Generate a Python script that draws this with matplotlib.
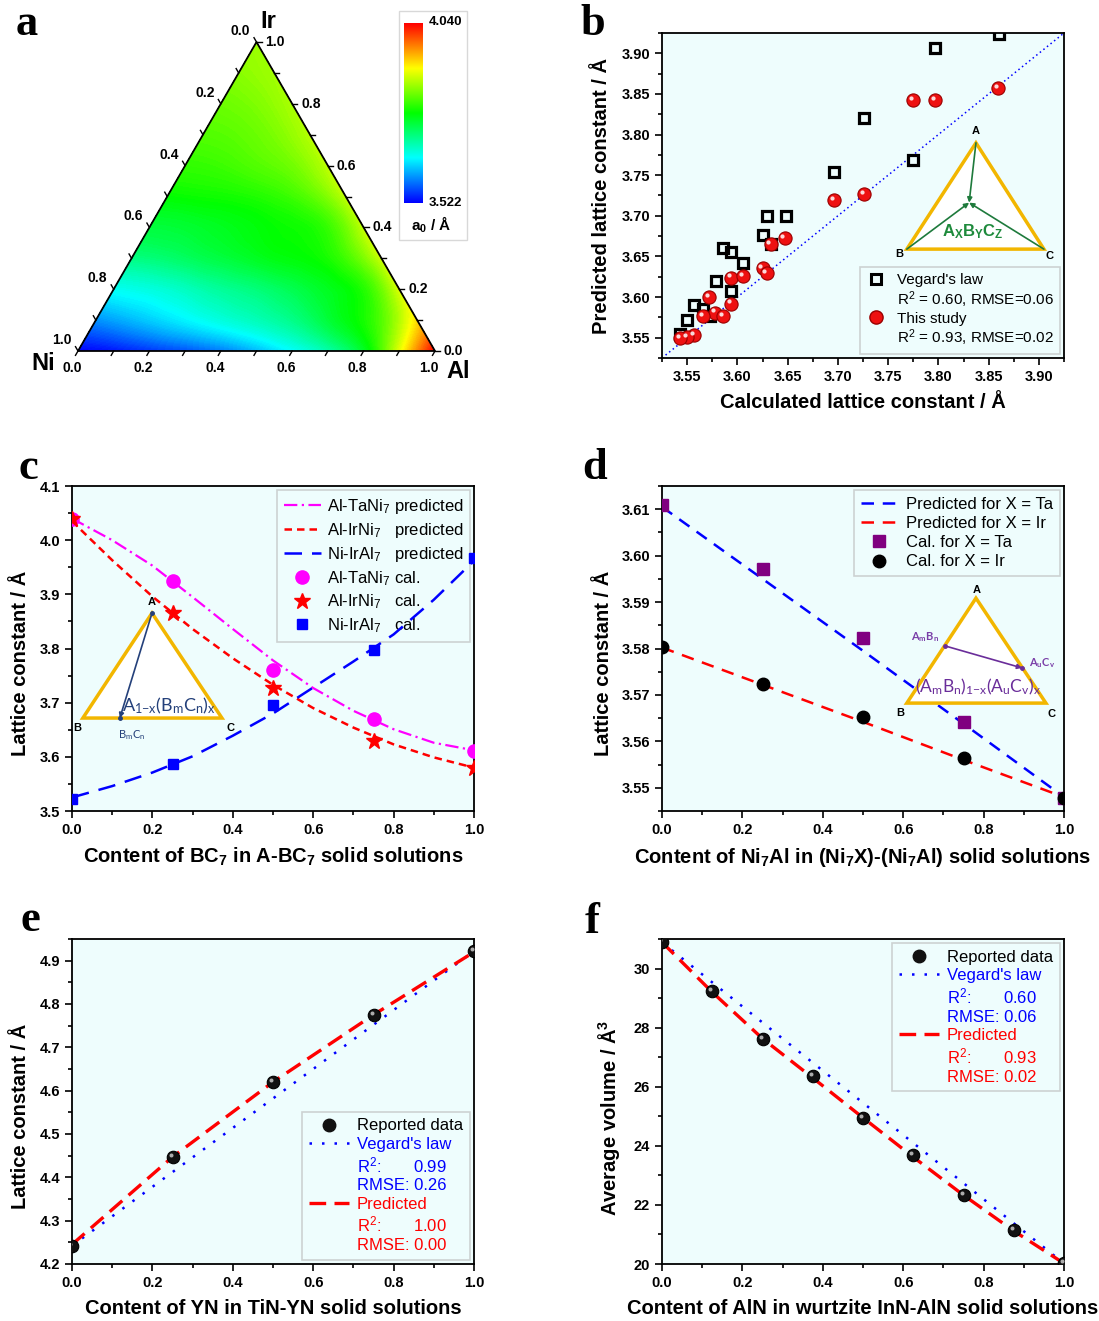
import matplotlib
matplotlib.use('Agg')
import matplotlib.pyplot as plt
import numpy as np
import matplotlib.tri as mtri
from matplotlib.colors import LinearSegmentedColormap
from matplotlib.lines import Line2D
from matplotlib.patches import Polygon, Rectangle
from matplotlib.ticker import MultipleLocator, FormatStrFormatter
from matplotlib.transforms import offset_copy

plt.rcParams['font.family'] = ['Liberation Sans', 'DejaVu Sans']
plt.rcParams['mathtext.default'] = 'regular'

W, H = 1099, 1321
BG = '#eefdfd'

# ---------------- data ----------------
# a: a0 over Ni-Al-Ir; rows = Ir fraction 0.0..1.0 (step 0.1), columns = Al fraction 0.0, 0.1, ...
ter_step = 0.1
ter_a0 = [
    [3.522, 3.532, 3.548, 3.563, 3.584, 3.615, 3.652, 3.693, 3.760, 3.895, 4.040],
    [3.595, 3.615, 3.636, 3.657, 3.677, 3.698, 3.729, 3.771, 3.822, 3.926],
    [3.657, 3.667, 3.683, 3.703, 3.719, 3.740, 3.765, 3.797, 3.890],
    [3.714, 3.724, 3.740, 3.755, 3.771, 3.781, 3.812, 3.882],
    [3.750, 3.755, 3.765, 3.776, 3.786, 3.807, 3.878],
    [3.781, 3.786, 3.791, 3.802, 3.825, 3.876],
    [3.805, 3.810, 3.822, 3.838, 3.876],
    [3.822, 3.828, 3.843, 3.872],
    [3.835, 3.845, 3.867],
    [3.850, 3.862],
    [3.858],
]
cb_min, cb_max = 3.522, 4.040

# b: predicted vs calculated
b_lim = [3.525, 3.925]
b_veg_x = [3.860, 3.797, 3.726, 3.775, 3.696, 3.629, 3.648, 3.625, 3.633, 3.586,
           3.594, 3.606, 3.579, 3.594, 3.557, 3.566, 3.573, 3.550, 3.543]
b_veg_y = [3.924, 3.907, 3.820, 3.769, 3.754, 3.700, 3.700, 3.677, 3.665, 3.660,
           3.655, 3.642, 3.620, 3.607, 3.590, 3.585, 3.577, 3.572, 3.555]
b_our_x = [3.859, 3.775, 3.797, 3.726, 3.696, 3.647, 3.633, 3.625, 3.629, 3.594,
           3.606, 3.594, 3.572, 3.578, 3.586, 3.566, 3.557, 3.550, 3.543]
b_our_y = [3.857, 3.843, 3.843, 3.727, 3.719, 3.673, 3.665, 3.636, 3.630, 3.624,
           3.626, 3.592, 3.600, 3.581, 3.577, 3.577, 3.553, 3.551, 3.550]

# c: A-BC7
c_x = [0.0, 0.25, 0.5, 0.75, 1.0]
c_ta_cal = [4.040, 3.925, 3.760, 3.670, 3.610]
c_ir_cal = [4.040, 3.865, 3.727, 3.630, 3.580]
c_ni_cal = [3.523, 3.587, 3.695, 3.798, 3.968]
c_xp = [0.0, 0.1, 0.2, 0.3, 0.4, 0.5, 0.6, 0.7, 0.8, 0.9, 1.0]
c_ta_pred = [4.040, 4.000, 3.953, 3.895, 3.836, 3.778, 3.727, 3.685, 3.651, 3.626, 3.612]
c_ir_pred = [4.035, 3.963, 3.896, 3.836, 3.782, 3.733, 3.690, 3.654, 3.623, 3.599, 3.580]
c_ni_pred = [3.525, 3.546, 3.571, 3.601, 3.639, 3.680, 3.728, 3.776, 3.826, 3.890, 3.962]

# d: (Ni7X)-(Ni7Al)
d_x = [0.0, 0.25, 0.5, 0.75, 1.0]
d_ta_cal = [3.6109, 3.5971, 3.5823, 3.5641, 3.5477]
d_ir_cal = [3.5803, 3.5723, 3.5652, 3.5564, 3.5477]
d_ta_pred = [3.6105, 3.5950, 3.5795, 3.5638, 3.5480]
d_ir_pred = [3.5802, 3.5722, 3.5642, 3.5560, 3.5480]

# e: TiN-YN
e_x = [0.0, 0.25, 0.5, 0.75, 1.0]
e_rep = [4.242, 4.448, 4.620, 4.775, 4.922]
e_veg_x = [0.0, 1.0]
e_veg = [4.242, 4.922]
e_pred = [4.245, 4.447, 4.620, 4.775, 4.920]

# f: InN-AlN
f_x = [0.0, 0.125, 0.25, 0.375, 0.5, 0.625, 0.75, 0.875, 1.0]
f_rep = [30.89, 29.23, 27.62, 26.37, 24.94, 23.68, 22.34, 21.15, 20.02]
f_veg_x = [0.0, 1.0]
f_veg = [30.89, 20.02]
f_pred = [30.89, 29.20, 27.63, 26.30, 24.95, 23.62, 22.33, 21.12, 20.02]

# ---------------- helpers ----------------
fig = plt.figure(figsize=(W / 100, H / 100), dpi=100)


def px_axes(l, t, r, b):
    return fig.add_axes([l / W, 1 - b / H, (r - l) / W, (b - t) / H])


def style(ax, xmaj, xmin, ymaj, ymin, xfmt, yfmt):
    ax.set_facecolor(BG)
    for s in ax.spines.values():
        s.set_linewidth(1.3)
    ax.xaxis.set_major_locator(MultipleLocator(xmaj))
    ax.xaxis.set_minor_locator(MultipleLocator(xmin))
    ax.yaxis.set_major_locator(MultipleLocator(ymaj))
    ax.yaxis.set_minor_locator(MultipleLocator(ymin))
    ax.xaxis.set_major_formatter(FormatStrFormatter(xfmt))
    ax.yaxis.set_major_formatter(FormatStrFormatter(yfmt))
    ax.tick_params(which='both', direction='out', width=1.2, labelsize=10.5)
    ax.tick_params(which='major', length=5)
    ax.tick_params(which='minor', length=3)
    for lab in ax.get_xticklabels() + ax.get_yticklabels():
        lab.set_fontweight('bold')


def labels(ax, xl, yl, ylx, yly):
    ax.set_xlabel(xl, fontsize=14.5, fontweight='bold')
    ax.set_ylabel(yl, fontsize=14.5, fontweight='bold')
    ax.xaxis.set_label_coords(0.5, -0.108)
    ax.yaxis.set_label_coords(ylx, yly)


def spheres(ax, x, y, color, edge, hl, ms):
    ax.plot(x, y, 'o', ms=ms, mfc=color, mec=edge, mew=0.8, ls='none', zorder=5)
    tr = offset_copy(ax.transData, fig=fig, x=-ms * 0.16, y=ms * 0.16, units='points')
    ax.plot(x, y, 'o', ms=ms * 0.32, mfc=hl, mec='none', alpha=0.85, ls='none',
            transform=tr, zorder=6)


def leg(ax, handles, texts, loc, colors=None, fs=12, **kw):
    lg = ax.legend(handles, texts, loc=loc, fontsize=fs, frameon=True, fancybox=False,
                   edgecolor='#c4c8c8', facecolor='none', borderaxespad=0.25, **kw)
    lg.get_frame().set_linewidth(1.2)
    if colors:
        for t, c in zip(lg.get_texts(), colors):
            t.set_color(c)
    return lg


def panel_letter(x, y, s):
    fig.text(x / W, 1 - y / H, s, fontfamily='Liberation Serif', fontweight='bold',
             fontsize=32, ha='center', va='center')


blank = Line2D([], [], ls='none')

# ---------------- a: ternary ----------------
ax_a = px_axes(0, 0, 470, 400)
ax_a.set_xlim(0, 470)
ax_a.set_ylim(400, 0)
ax_a.axis('off')
P_NI, P_AL, P_IR = np.array([78.0, 351.0]), np.array([435.0, 351.0]), np.array([256.5, 42.0])


def tern(al, ir):
    al, ir = np.atleast_1d(al), np.atleast_1d(ir)
    p = P_NI[:, None] + np.outer(P_AL - P_NI, al) + np.outer(P_IR - P_NI, ir)
    return p[0], p[1]


al_f, ir_f, vals = [], [], []
for r, row in enumerate(ter_a0):
    for c, v in enumerate(row):
        ir_f.append(r * ter_step)
        al_f.append(c * ter_step)
        vals.append(v)
tx, ty = tern(al_f, ir_f)
tri = mtri.Triangulation(tx, ty)
tri_r, z_r = mtri.UniformTriRefiner(tri).refine_field(np.array(vals), subdiv=3)
z_r = np.clip(z_r, cb_min, cb_max)
cmap = LinearSegmentedColormap.from_list('origin_rb', ['#0000ff', '#00ffff', '#00ff00',
                                                       '#ffff00', '#ff0000'])
ax_a.tricontourf(tri_r, z_r, levels=np.linspace(cb_min, cb_max, 160), cmap=cmap,
                 antialiased=False)
ax_a.add_patch(Polygon([P_NI, P_AL, P_IR], closed=True, fill=False, ec='black', lw=1.3,
                       zorder=3))
ticks = np.round(np.arange(0, 1.0001, 0.1), 2)
L = 5
for t in ticks:
    major = abs(t * 5 - round(t * 5)) < 1e-6
    # bottom: Al fraction
    x0, y0 = tern(t, 0)
    ax_a.plot([x0[0], x0[0] - 0.5 * L], [y0[0], y0[0] + 0.866 * L], color='k', lw=1)
    if major:
        ax_a.text(x0[0] - 6, y0[0] + 17, f'{t:.1f}', ha='center', va='center',
                  fontsize=10, fontweight='bold')
    # left: Ni fraction
    x0, y0 = tern(0, 1 - t)
    ax_a.plot([x0[0], x0[0] - 0.5 * L], [y0[0], y0[0] - 0.866 * L], color='k', lw=1)
    if major:
        ax_a.text(x0[0] - 16, y0[0] - 11, f'{t:.1f}', ha='center', va='center',
                  fontsize=10, fontweight='bold')
    # right: Ir fraction
    x0, y0 = tern(1 - t, t)
    ax_a.plot([x0[0], x0[0] + L], [y0[0], y0[0]], color='k', lw=1)
    if major:
        ax_a.text(x0[0] + 9, y0[0], f'{t:.1f}', ha='left', va='center',
                  fontsize=10, fontweight='bold')
ax_a.text(268, 21, 'Ir', fontsize=17, fontweight='bold', ha='center', va='center')
ax_a.text(43, 363, 'Ni', fontsize=17, fontweight='bold', ha='center', va='center')
ax_a.text(458, 372, 'Al', fontsize=17, fontweight='bold', ha='center', va='center')
ax_a.add_patch(Rectangle((399, 11), 68, 229, fc='white', ec='#d8d8d8', lw=1))
ax_cb = px_axes(404, 23, 423, 203)
ax_cb.imshow(np.linspace(cb_min, cb_max, 256)[:, None], aspect='auto', cmap=cmap,
             origin='lower', extent=[0, 1, cb_min, cb_max])
ax_cb.set_xticks([])
ax_cb.set_yticks([])
for s in ax_cb.spines.values():
    s.set_visible(False)
ax_a.text(429, 22, f'{cb_max:.3f}', fontsize=9.5, fontweight='bold', va='center')
ax_a.text(429, 203, f'{cb_min:.3f}', fontsize=9.5, fontweight='bold', va='center')
ax_a.text(431, 225, 'a$_0$ / Å', fontsize=11, fontweight='bold', ha='center', va='center')
panel_letter(27, 24, 'a')

# ---------------- b ----------------
ax = px_axes(662, 33, 1064, 358)
ax.plot(b_lim, b_lim, ls=(0, (1, 2)), color='blue', lw=1.1, zorder=2)
ax.plot(b_veg_x, b_veg_y, 's', ms=7.5, mfc='none', mec='black', mew=2.3, ls='none', zorder=4)
spheres(ax, b_our_x, b_our_y, '#ee1111', '#990000', 'white', 9.5)
ax.set_xlim(b_lim)
ax.set_ylim(b_lim)
style(ax, 0.05, 0.025, 0.05, 0.025, '%.2f', '%.2f')
labels(ax, 'Calculated lattice constant / Å', 'Predicted lattice constant / Å', -0.127, 0.5)
leg(ax, [Line2D([], [], marker='s', ms=7, mfc='none', mec='k', mew=2.2, ls='none'), blank,
         Line2D([], [], marker='o', ms=9.5, mfc='#ee1111', mec='#990000', ls='none'), blank],
    ["Vegard's law", 'R$^2$ = 0.60, RMSE=0.06', 'This study', 'R$^2$ = 0.93, RMSE=0.02'],
    'lower right', fs=11, labelspacing=0.12, handlelength=1.2, handletextpad=0.8)
tri_b = Polygon([(0.781, 0.662), (0.609, 0.335), (0.950, 0.335)], closed=True,
                transform=ax.transAxes, fc='white', ec='#f2b600', lw=2.5, zorder=3)
ax.add_patch(tri_b)
for sx, sy in [(0.781, 0.662), (0.609, 0.335), (0.950, 0.335)]:
    ax.annotate('', xy=(0.764, 0.478), xytext=(sx, sy), xycoords='axes fraction',
                arrowprops=dict(arrowstyle='-|>', color='#1e7a3c', lw=1.2,
                                mutation_scale=7, shrinkA=0, shrinkB=0), zorder=4)
ax.text(0.774, 0.39, 'A$_X$B$_Y$C$_Z$', transform=ax.transAxes, color='#1e8a3c',
        fontsize=12, fontweight='bold', ha='center', va='center', zorder=5)
ax.text(0.781, 0.69, 'A', transform=ax.transAxes, fontsize=8, fontweight='bold', ha='center')
ax.text(0.59, 0.31, 'B', transform=ax.transAxes, fontsize=8, fontweight='bold', ha='center')
ax.text(0.965, 0.305, 'C', transform=ax.transAxes, fontsize=8, fontweight='bold', ha='center')
panel_letter(593, 24, 'b')

# ---------------- c ----------------
ax = px_axes(72, 486, 474, 811)
ax.plot(c_xp, c_ta_pred, color='#ff00ff', lw=1.6, ls=(0, (6, 2, 1, 2)), zorder=3)
ax.plot(c_xp, c_ir_pred, color='#ff0000', lw=1.8, ls=(0, (3, 2)), zorder=3)
ax.plot(c_xp, c_ni_pred, color='#0000ff', lw=1.8, ls=(0, (7, 4)), zorder=3)
ax.plot(c_x, c_ta_cal, 'o', ms=9.5, color='#ff00ff', ls='none', zorder=4)
ax.plot(c_x, c_ir_cal, '*', ms=12, color='#ff0000', ls='none', zorder=4)
ax.plot(c_x, c_ni_cal, 's', ms=7.5, color='#0000ff', ls='none', zorder=4)
ax.set_xlim(0, 1)
ax.set_ylim(3.5, 4.1)
style(ax, 0.2, 0.1, 0.1, 0.05, '%.1f', '%.1f')
labels(ax, 'Content of BC$_7$ in A-BC$_7$ solid solutions', 'Lattice constant / Å',
       -0.104, 0.455)
lg = leg(ax, [Line2D([], [], color='#ff00ff', lw=1.6, ls=(0, (6, 2, 1, 2))),
              Line2D([], [], color='#ff0000', lw=1.8, ls=(0, (3, 2))),
              Line2D([], [], color='#0000ff', lw=1.8, ls=(0, (7, 4))),
              Line2D([], [], marker='o', ms=9.5, color='#ff00ff', ls='none'),
              Line2D([], [], marker='*', ms=12, color='#ff0000', ls='none'),
              Line2D([], [], marker='s', ms=7.5, color='#0000ff', ls='none')],
         ['Al-TaNi$_7$ predicted', 'Al-IrNi$_7$   predicted', 'Ni-IrAl$_7$   predicted',
          'Al-TaNi$_7$ cal.', 'Al-IrNi$_7$   cal.', 'Ni-IrAl$_7$   cal.'],
         'upper right', labelspacing=0.3, handlelength=2.2, handletextpad=0.35)
lg.set_zorder(2)
tri_pts = [(0.199, 0.609), (0.027, 0.286), (0.373, 0.286)]
ax.add_patch(Polygon(tri_pts, closed=True, transform=ax.transAxes, fc='white',
                     ec='#f2b600', lw=2.5, zorder=3))
ax.annotate('', xy=(0.119, 0.286), xytext=(0.199, 0.609), xycoords='axes fraction',
            arrowprops=dict(arrowstyle='-|>', color='#24407a', lw=1.2, mutation_scale=7,
                            shrinkA=0, shrinkB=0), zorder=4)
ax.plot([0.199, 0.119], [0.609, 0.286], 'o', ms=2.5, color='#24407a',
        transform=ax.transAxes, zorder=4)
ax.text(0.199, 0.635, 'A', transform=ax.transAxes, fontsize=8, fontweight='bold',
        ha='center', zorder=5)
ax.text(0.012, 0.255, 'B', transform=ax.transAxes, fontsize=8, fontweight='bold',
        ha='center', va='center', zorder=5)
ax.text(0.395, 0.255, 'C', transform=ax.transAxes, fontsize=8, fontweight='bold',
        ha='center', va='center', zorder=5)
ax.text(0.148, 0.235, 'B$_m$C$_n$', transform=ax.transAxes, fontsize=8, color='#24407a',
        ha='center', va='center', fontfamily='Lato', zorder=5)
ax.text(0.24, 0.325, 'A$_{1{-}x}$(B$_m$C$_n$)$_x$', transform=ax.transAxes, fontsize=13,
        color='#24407a', ha='center', va='center', fontfamily='Lato', zorder=5)
panel_letter(28, 468, 'c')

# ---------------- d ----------------
ax = px_axes(662, 486, 1064, 811)
ax.plot(d_x, d_ta_pred, color='#0000ff', lw=1.8, ls=(0, (5, 3.5)), zorder=3)
ax.plot(d_x, d_ir_pred, color='#ff0000', lw=1.8, ls=(0, (5, 3.5)), zorder=3)
ax.plot(d_x, d_ta_cal, 's', ms=8, color='#800080', ls='none', zorder=4)
ax.plot(d_x, d_ir_cal, 'o', ms=9, color='black', ls='none', zorder=4)
ax.set_xlim(0, 1)
ax.set_ylim(3.545, 3.615)
style(ax, 0.2, 0.1, 0.01, 0.005, '%.1f', '%.2f')
labels(ax, 'Content of Ni$_7$Al in (Ni$_7$X)-(Ni$_7$Al) solid solutions',
       'Lattice constant / Å', -0.122, 0.455)
leg(ax, [Line2D([], [], color='#0000ff', lw=1.8, ls=(0, (5, 3.5))),
         Line2D([], [], color='#ff0000', lw=1.8, ls=(0, (5, 3.5))),
         Line2D([], [], marker='s', ms=8, color='#800080', ls='none'),
         Line2D([], [], marker='o', ms=9, color='black', ls='none')],
    ['Predicted for X = Ta', 'Predicted for X = Ir', 'Cal. for X = Ta', 'Cal. for X = Ir'],
    'upper right', labelspacing=0.25, handlelength=2.2, handletextpad=0.5)
tri_pts = [(0.781, 0.655), (0.609, 0.332), (0.955, 0.332)]
ax.add_patch(Polygon(tri_pts, closed=True, transform=ax.transAxes, fc='white',
                     ec='#f2b600', lw=2.5, zorder=3))
ax.annotate('', xy=(0.896, 0.440), xytext=(0.704, 0.508), xycoords='axes fraction',
            arrowprops=dict(arrowstyle='-|>', color='#6a2d9a', lw=1.2, mutation_scale=7,
                            shrinkA=0, shrinkB=0), zorder=4)
ax.plot([0.704, 0.896], [0.508, 0.440], 'o', ms=2.5, color='#6a2d9a',
        transform=ax.transAxes, zorder=4)
ax.text(0.784, 0.672, 'A', transform=ax.transAxes, fontsize=8, fontweight='bold',
        ha='center', zorder=5)
ax.text(0.592, 0.302, 'B', transform=ax.transAxes, fontsize=8, fontweight='bold',
        ha='center', va='center', zorder=5)
ax.text(0.970, 0.298, 'C', transform=ax.transAxes, fontsize=8, fontweight='bold',
        ha='center', va='center', zorder=5)
ax.text(0.655, 0.535, 'A$_m$B$_n$', transform=ax.transAxes, fontsize=8, color='#7a3fa8',
        ha='center', va='center', fontfamily='Lato', fontweight='bold', zorder=5)
ax.text(0.945, 0.455, 'A$_u$C$_v$', transform=ax.transAxes, fontsize=8, color='#7a3fa8',
        ha='center', va='center', fontfamily='Lato', fontweight='bold', zorder=5)
ax.text(0.786, 0.382, '(A$_m$B$_n$)$_{1{-}x}$(A$_u$C$_v$)$_x$', transform=ax.transAxes,
        fontsize=12.5, color='#6a2d9a', ha='center', va='center', fontfamily='Lato', zorder=5)
panel_letter(595, 468, 'd')

# ---------------- e ----------------
ax = px_axes(72, 939, 474, 1264)
ax.plot(e_veg_x, e_veg, color='#0000ff', lw=1.8, ls=(0, (1, 4)), zorder=3)
ax.plot(e_x, e_pred, color='#ff0000', lw=2.4, ls=(0, (5, 2.5)), zorder=3)
spheres(ax, e_x, e_rep, '#111111', '#000000', '#c8c8c8', 9)
ax.set_xlim(0, 1)
ax.set_ylim(4.2, 4.95)
style(ax, 0.2, 0.1, 0.1, 0.05, '%.1f', '%.1f')
labels(ax, 'Content of YN in TiN-YN solid solutions', 'Lattice constant / Å', -0.104, 0.455)
h_rep = Line2D([], [], marker='o', ms=9, color='#111111', ls='none')
h_veg = Line2D([], [], color='#0000ff', lw=1.8, ls=(0, (1, 4)))
h_pred = Line2D([], [], color='#ff0000', lw=2.4, ls=(0, (5, 2.5)))
cols = ['black', 'blue', 'blue', 'blue', 'red', 'red', 'red']
leg(ax, [h_rep, h_veg, blank, blank, h_pred, blank, blank],
    ['Reported data', "Vegard's law", 'R$^2$:       0.99', 'RMSE: 0.26', 'Predicted',
     'R$^2$:       1.00', 'RMSE: 0.00'],
    'lower right', colors=cols, labelspacing=0.2, handlelength=2.4, handletextpad=0.5)
panel_letter(30, 920, 'e')

# ---------------- f ----------------
ax = px_axes(662, 939, 1064, 1264)
ax.plot(f_veg_x, f_veg, color='#0000ff', lw=1.8, ls=(0, (1, 4)), zorder=3)
ax.plot(f_x, f_pred, color='#ff0000', lw=2.4, ls=(0, (5, 2.5)), zorder=3)
spheres(ax, f_x, f_rep, '#111111', '#000000', '#c8c8c8', 9)
ax.set_xlim(0, 1)
ax.set_ylim(20, 31)
style(ax, 0.2, 0.1, 2, 1, '%.1f', '%d')
labels(ax, 'Content of AlN in wurtzite InN-AlN solid solutions', 'Average volume / Å$^3$',
       -0.10, 0.45)
leg(ax, [h_rep, h_veg, blank, blank, h_pred, blank, blank],
    ['Reported data', "Vegard's law", 'R$^2$:       0.60', 'RMSE: 0.06', 'Predicted',
     'R$^2$:       0.93', 'RMSE: 0.02'],
    'upper right', colors=cols, labelspacing=0.2, handlelength=2.4, handletextpad=0.5)
panel_letter(592, 922, 'f')

fig.savefig('out.png', dpi=100, facecolor='white')
